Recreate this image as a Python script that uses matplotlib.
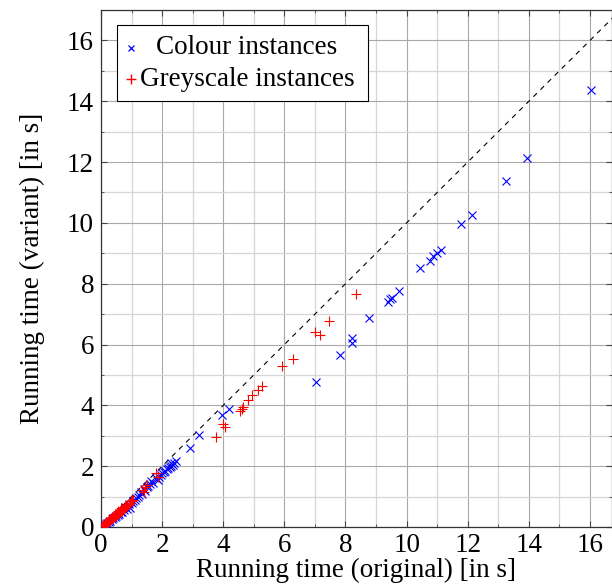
import matplotlib
matplotlib.use("Agg")
import matplotlib.pyplot as plt
from matplotlib.ticker import MultipleLocator
from matplotlib.patches import Rectangle

plt.rcParams['font.family'] = ['Liberation Serif', 'DejaVu Serif']

# Colour instances (original, variant)
colour_x = [16.03, 13.94, 13.25, 12.14, 11.78, 11.13, 10.99, 10.86, 10.77, 10.44,
            9.75, 9.52, 9.46, 9.39, 8.77, 8.21, 8.21, 7.82, 7.04, 4.19, 3.96, 3.21, 2.91,
            2.45, 2.40, 2.35, 2.30, 2.25, 2.20, 2.15, 2.10, 2.05, 2.30, 2.00, 1.95, 1.90,
            1.85, 1.80, 1.70, 1.65, 1.60, 1.55, 1.50, 1.45, 1.40, 1.35, 1.30, 1.25, 1.20,
            1.15, 1.10, 1.05, 1.00, 0.95, 0.90, 0.85, 0.80, 0.75, 0.70, 0.65, 0.60, 0.55,
            0.50, 0.45, 0.40, 0.35, 0.30, 0.25, 0.20, 0.15, 0.10, 0.05]
colour_y = [14.36, 12.12, 11.37, 10.25, 9.95, 9.10, 9.02, 8.90, 8.74, 8.51,
            7.75, 7.52, 7.49, 7.39, 6.87, 6.21, 6.04, 5.65, 4.76, 3.88, 3.68, 3.02, 2.60,
            2.18, 2.10, 2.05, 2.00, 1.98, 1.95, 1.90, 1.85, 1.80, 2.12, 1.78, 1.72, 1.65,
            1.55, 1.60, 1.45, 1.50, 1.40, 1.35, 1.30, 1.20, 1.25, 1.10, 1.15, 1.05, 1.00,
            0.95, 0.90, 0.85, 0.80, 0.62, 0.75, 0.60, 0.65, 0.55, 0.50, 0.48, 0.42, 0.40,
            0.35, 0.32, 0.28, 0.25, 0.20, 0.18, 0.12, 0.10, 0.06, 0.03]

# Greyscale instances (original, variant)
grey_x = [8.34, 7.46, 7.00, 7.17, 6.28, 5.92, 5.27, 5.14, 4.94, 4.81, 4.65, 4.55, 4.60,
          3.99, 4.06, 3.76, 1.87, 1.80, 1.44, 1.34, 1.40, 1.50,
          0.02, 0.05, 0.08, 0.10, 0.12, 0.15, 0.18, 0.20, 0.22, 0.25, 0.28, 0.30, 0.32,
          0.35, 0.38, 0.40, 0.42, 0.45, 0.48, 0.50, 0.52, 0.55, 0.58, 0.60, 0.62, 0.65,
          0.68, 0.70, 0.72, 0.75, 0.78, 0.80, 0.83, 0.86, 0.90, 0.94, 0.98, 1.02, 1.06,
          0.30, 0.40, 0.50, 0.60, 0.70, 0.80, 0.25, 0.45, 0.55, 0.35, 0.15, 0.65]
grey_y = [7.65, 6.77, 6.41, 6.31, 5.52, 5.29, 4.62, 4.50, 4.34, 4.17, 3.94, 3.80, 3.88,
          3.38, 3.29, 2.96, 1.64, 1.76, 1.31, 1.22, 1.15, 1.38,
          0.02, 0.04, 0.06, 0.08, 0.10, 0.12, 0.14, 0.17, 0.18, 0.20, 0.23, 0.25, 0.26,
          0.28, 0.31, 0.33, 0.35, 0.37, 0.40, 0.42, 0.43, 0.46, 0.48, 0.50, 0.52, 0.55,
          0.57, 0.60, 0.60, 0.63, 0.66, 0.68, 0.70, 0.73, 0.76, 0.80, 0.84, 0.88, 0.90,
          0.20, 0.28, 0.36, 0.44, 0.52, 0.62, 0.25, 0.43, 0.52, 0.33, 0.15, 0.62]

series_labels = ['Colour instances', 'Greyscale instances']

fig = plt.figure(figsize=(6.12, 5.87), dpi=100)
AX_L, AX_T, AX_W, AX_H = 101, 10, 511, 517
ax = fig.add_axes([AX_L/612, (587 - AX_T - AX_H)/587, AX_W/612, AX_H/587])

ax.set_xlim(0, 16.72)
ax.set_ylim(0, 17.0)

ax.xaxis.set_major_locator(MultipleLocator(2))
ax.xaxis.set_minor_locator(MultipleLocator(1))
ax.yaxis.set_major_locator(MultipleLocator(2))
ax.yaxis.set_minor_locator(MultipleLocator(1))

ax.grid(which='major', color='#a8a8a8', linewidth=0.8, zorder=0)
ax.grid(which='minor', color='#d6d6d6', linewidth=0.9, zorder=0)
ax.set_axisbelow(True)

ax.plot([0, 17], [0, 17], color='black', linewidth=0.8, linestyle=(0, (4.5, 4.5)), zorder=2)

ax.plot(colour_x, colour_y, linestyle='none', marker='x', color='blue',
        markersize=6.2, markeredgewidth=0.8, zorder=3)
ax.plot(grey_x, grey_y, linestyle='none', marker='+', color='red',
        markersize=7.2, markeredgewidth=0.8, zorder=4)

fs = 19.5
ax.tick_params(which='both', direction='in', top=True, right=True, labelsize=fs,
               color='#444444')
ax.tick_params(which='major', length=4.5, width=0.8)
ax.tick_params(axis='x', which='major', pad=4.5)
ax.tick_params(axis='y', which='major', pad=5)
ax.tick_params(which='minor', length=2.5, width=0.6)
for s in ax.spines.values():
    s.set_color('#333333')
    s.set_linewidth(0.9)

ax.set_xlabel('Running time (original) [in s]', fontsize=fs, labelpad=0)
ax.set_ylabel('Running time (variant) [in s]', fontsize=fs, labelpad=16)

# legend (drawn manually: centred text column, as in the reference)
def fx(px):
    return (px - AX_L) / AX_W

def fy(py):
    return 1 - (py - AX_T) / AX_H

ax.add_patch(Rectangle((fx(117), fy(101)), fx(368) - fx(117), fy(25) - fy(101),
                       transform=ax.transAxes, facecolor='white', edgecolor='black',
                       linewidth=0.8, zorder=6, clip_on=False))
ax.plot([fx(131)], [fy(48)], marker='x', color='blue', markersize=4.5,
        markeredgewidth=0.9, transform=ax.transAxes, zorder=7, clip_on=False)
ax.plot([fx(131)], [fy(79)], marker='+', color='red', markersize=6.5,
        markeredgewidth=1.0, transform=ax.transAxes, zorder=7, clip_on=False)
ax.text(fx(247), fy(48), series_labels[0], transform=ax.transAxes, fontsize=fs,
        ha='center', va='center', zorder=7)
ax.text(fx(247), fy(79), series_labels[1], transform=ax.transAxes, fontsize=fs,
        ha='center', va='center', zorder=7)

fig.savefig('out.png', dpi=100)
